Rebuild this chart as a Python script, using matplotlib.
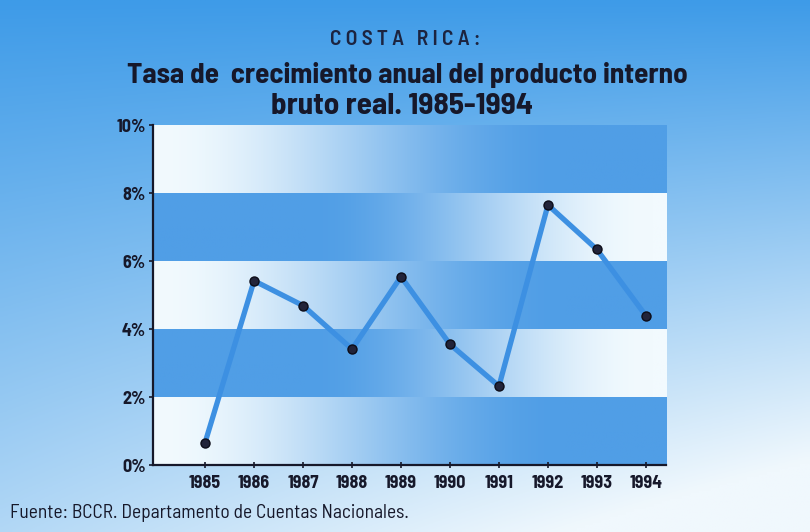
import matplotlib.pyplot as plt
import numpy as np

# datos: tasa de crecimiento anual del PIB real (%)
years = [1985, 1986, 1987, 1988, 1989, 1990, 1991, 1992, 1993, 1994]
growth = [0.66, 5.42, 4.69, 3.41, 5.54, 3.55, 2.32, 7.65, 6.34, 4.39]
y_ticks = [0, 2, 4, 6, 8, 10]
y_tick_labels = ['0%', '2%', '4%', '6%', '8%', '10%']

title_1 = 'COSTA RICA:'
title_2 = 'Tasa de  crecimiento anual del producto interno'
title_3 = 'bruto real. 1985-1994'
source = 'Fuente: BCCR. Departamento de Cuentas Nacionales.'

text_color = '#16182a'
line_color = '#3d90e2'
band_blue = np.array([80, 158, 230]) / 255
band_light = np.array([242, 250, 254]) / 255
font = ['Barlow Semi Condensed', 'DejaVu Sans']

fig = plt.figure(figsize=(8.1, 5.32), dpi=100)

# fondo degradado
bg = fig.add_axes([0, 0, 1, 1], zorder=-10)
gx, gy = np.meshgrid(np.linspace(0, 1, 200), np.linspace(0, 1, 200))
t = np.clip(0.65 * gy + 0.5 * gx * gy, 0, 1)[..., None]
top = np.array([62, 155, 232]) / 255
bottom = np.array([240, 248, 253]) / 255
bg.imshow(top * (1 - t) + bottom * t, aspect='auto', extent=[0, 1, 0, 1], origin='upper')
bg.set_axis_off()

ax = fig.add_axes([0.1885, 0.1259, 0.6337, 0.639])
xmin, xmax = 1983.93, 1994.41


def smooth(v, a, b):
    s = np.clip((v - a) / (b - a), 0, 1)
    return s * s * (3 - 2 * s)


# franjas horizontales con degradado
h = np.linspace(0, 1, 200)[None, :, None]
for i in range(5):
    if i % 2 == 0:
        s = smooth(h, 0.0, 0.8)
        grad = band_light * (1 - s) + band_blue * s
    else:
        s = smooth(h, 0.3, 0.97)
        grad = band_blue * (1 - s) + band_light * s
    ax.imshow(grad, extent=[xmin, xmax, 2 * i, 2 * i + 2], aspect='auto', zorder=0)

ax.plot(years, growth, color=line_color, linewidth=3.8, solid_capstyle='round', zorder=2)
ax.plot(years, growth, linestyle='none', marker='o', markersize=6.5,
        markerfacecolor='#22243a', markeredgecolor='#0c0c18', zorder=3)

ax.set_xlim(xmin, xmax)
ax.set_ylim(0, 10)
ax.set_xticks(years)
ax.set_xticklabels([str(y) for y in years], fontsize=13, fontweight='bold',
                   color=text_color, family=font)
ax.set_yticks(y_ticks)
ax.set_yticklabels(y_tick_labels, fontsize=13, fontweight='bold',
                   color=text_color, family=font)
ax.tick_params(axis='x', direction='inout', length=5, width=1.2, pad=5, colors=text_color)
ax.tick_params(axis='y', direction='out', length=3, width=1.2, pad=2, colors=text_color)
for s in ['top', 'right']:
    ax.spines[s].set_visible(False)
for s in ['left', 'bottom']:
    ax.spines[s].set_linewidth(1.6)
    ax.spines[s].set_color(text_color)

# títulos
fig.text(0.5, 0.925, '\u2009'.join(title_1), ha='center', va='center', fontsize=15.5,
         fontweight='semibold', color='#1c2440', family=font)
fig.text(0.503, 0.859, title_2, ha='center', va='center', fontsize=21, fontweight='bold',
         color=text_color, family=font)
fig.text(0.496, 0.799, title_3, ha='center', va='center', fontsize=22.5, fontweight='bold',
         color=text_color, family=font)

fig.text(0.012, 0.035, source, ha='left', va='center', fontsize=14,
         color=text_color, family=font)

plt.savefig('out.png', dpi=100)
